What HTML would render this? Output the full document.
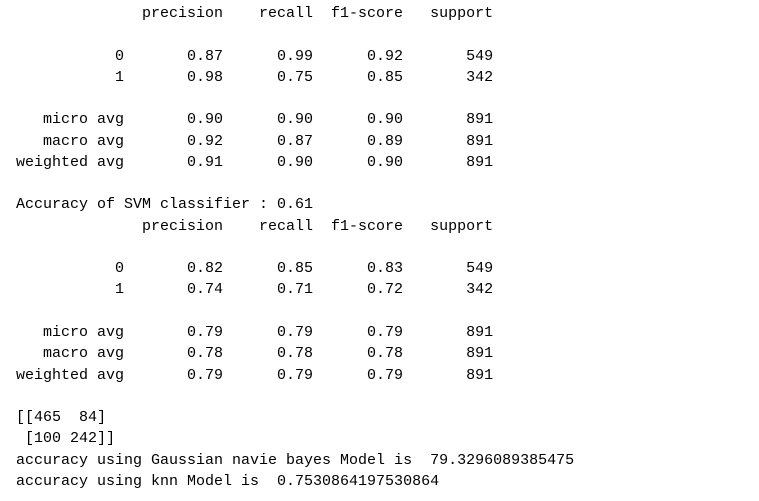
<!DOCTYPE html>
<html><head><meta charset="utf-8"><style>
html,body{margin:0;padding:0;background:#fff;width:759px;height:501px;overflow:hidden}
pre{margin:0;position:absolute;left:16px;top:3px;font-family:"Liberation Mono",monospace;font-size:15px;line-height:21.27px;color:#000}
</style></head><body>
<pre>              precision    recall  f1-score   support

           0       0.87      0.99      0.92       549
           1       0.98      0.75      0.85       342

   micro avg       0.90      0.90      0.90       891
   macro avg       0.92      0.87      0.89       891
weighted avg       0.91      0.90      0.90       891

Accuracy of SVM classifier : 0.61
              precision    recall  f1-score   support

           0       0.82      0.85      0.83       549
           1       0.74      0.71      0.72       342

   micro avg       0.79      0.79      0.79       891
   macro avg       0.78      0.78      0.78       891
weighted avg       0.79      0.79      0.79       891

[[465  84]
 [100 242]]
accuracy using Gaussian navie bayes Model is  79.3296089385475
accuracy using knn Model is  0.7530864197530864</pre>
</body></html>
